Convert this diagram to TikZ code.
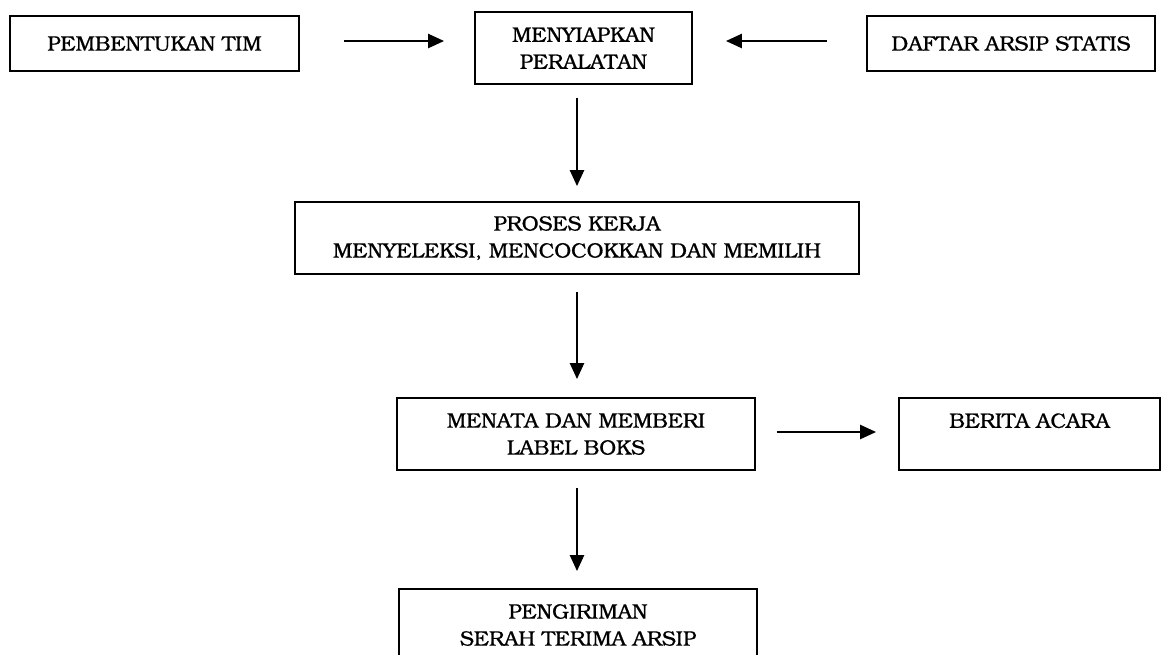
\documentclass[tikz,border=0pt]{standalone}
\usepackage[T1]{fontenc}
\usepackage{bookman}
\usetikzlibrary{arrows.meta}
% slightly heavier strokes for the Bookman text
\newcommand{\heavytext}{\special{pdf:literal direct 2 Tr 0.12 w}}
\begin{document}
\begin{tikzpicture}[x=1pt,y=-1pt,
  box/.style={draw, line width=1.8pt, inner sep=0pt, align=center,
    font=\fontsize{21}{27}\selectfont\heavytext},
  flow/.style={-{Triangle[length=16pt,width=14pt]}, line width=2.4pt}]
\useasboundingbox (0,0) rectangle (1168,654);

% process boxes
\node[box, minimum width=289pt, minimum height=55pt] (tim) at (154.5,43.5) {PEMBENTUKAN TIM};
\node[box, minimum width=217pt, minimum height=72pt] (alat) at (583.5,48) {MENYIAPKAN\\PERALATAN};
\node[box, minimum width=288pt, minimum height=55pt] (daftar) at (1011,43.5) {DAFTAR ARSIP STATIS};
\node[box, minimum width=564pt, minimum height=72pt] (proses) at (577,238) {PROSES KERJA\\MENYELEKSI, MENCOCOKKAN DAN MEMILIH};
\node[box, minimum width=358pt, minimum height=72pt] (menata) at (576,434) {MENATA DAN MEMBERI\\LABEL BOKS};
\node[box, minimum width=261pt, minimum height=72pt] (berita) at (1029.5,434) {BERITA ACARA\\\mbox{}};
\node[box, minimum width=358pt, minimum height=72pt] (kirim) at (578,625) {PENGIRIMAN\\SERAH TERIMA ARSIP};

% connectors
\draw[flow, shorten <=44pt, shorten >=30pt] ([yshift=2.5pt]tim.east) -- ([yshift=2.5pt]tim.east -| alat.west);
\draw[flow, shorten <=39pt, shorten >=33pt] ([yshift=2.5pt]daftar.west) -- ([yshift=2.5pt]daftar.west -| alat.east);
\draw[flow, shorten <=13pt, shorten >=15pt] (proses.north |- alat.south) -- (proses.north);
\draw[flow, shorten <=17pt, shorten >=18pt] (proses.south) -- (proses.south |- menata.north);
\draw[flow, shorten <=21pt, shorten >=22pt] ([yshift=2pt]menata.east) -- ([yshift=2pt]menata.east -| berita.west);
\draw[flow, shorten <=17pt, shorten >=17pt] (proses.south |- menata.south) -- (proses.south |- kirim.north);
\end{tikzpicture}
\end{document}
